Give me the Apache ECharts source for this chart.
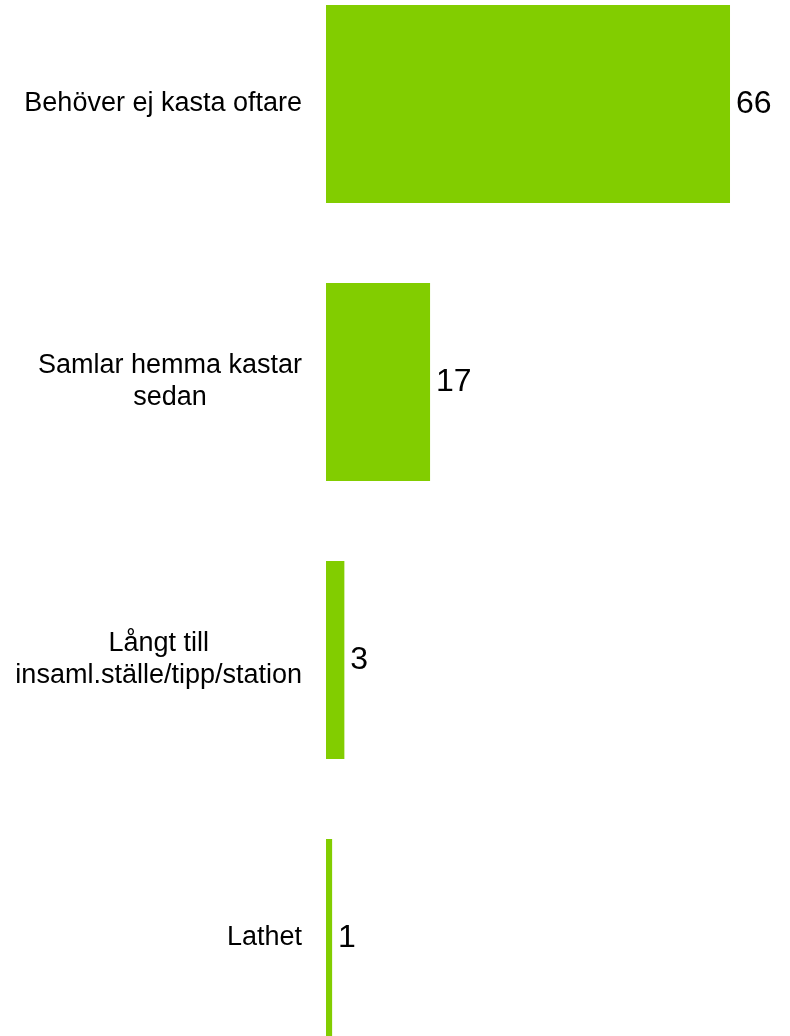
<!DOCTYPE html>
<html>
<head>
<meta charset="utf-8">
<script src="https://cdn.jsdelivr.net/npm/echarts@6/dist/echarts.min.js"></script>
<style>
html,body{margin:0;padding:0;background:#fff;}
#chart{width:790px;height:1036px;}
</style>
</head>
<body>
<div id="chart"></div>
<script>
const categories = [
  "Behöver ej kasta oftare",
  "Samlar hemma kastar\nsedan",
  "Långt till\ninsaml.ställe/tipp/station",
  "Lathet"
];
const values = [66, 17, 3, 1];

const chart = echarts.init(document.getElementById('chart'), null, {renderer: 'canvas'});
const FONT = '"Liberation Sans", Arial, sans-serif';
chart.setOption({
  animation: false,
  backgroundColor: '#ffffff',
  grid: {
    left: 326,
    width: 428.5,
    top: -35,
    height: 1112,
    outerBoundsMode: 'none'
  },
  xAxis: {
    type: 'value',
    min: 0,
    max: 70,
    show: false,
    splitLine: {show: false}
  },
  yAxis: {
    type: 'category',
    inverse: true,
    data: categories,
    axisLine: {show: false},
    axisTick: {show: false},
    splitLine: {show: false},
    axisLabel: {
      margin: 24,
      color: '#000',
      fontFamily: FONT,
      fontSize: 27,
      lineHeight: 32,
      formatter: function (v) {
        return v.split('\n').map(function (l) { return '{c|' + l + '}'; }).join('\n');
      },
      rich: {
        c: {align: 'center', color: '#000', fontFamily: FONT, fontSize: 27, lineHeight: 32}
      }
    }
  },
  series: [{
    type: 'bar',
    data: values,
    barWidth: 198,
    itemStyle: {color: '#82cd00'},
    label: {
      show: true,
      position: 'right',
      distance: 6,
      color: '#000',
      fontFamily: FONT,
      fontSize: 32
    }
  }]
});
</script>
</body>
</html>
